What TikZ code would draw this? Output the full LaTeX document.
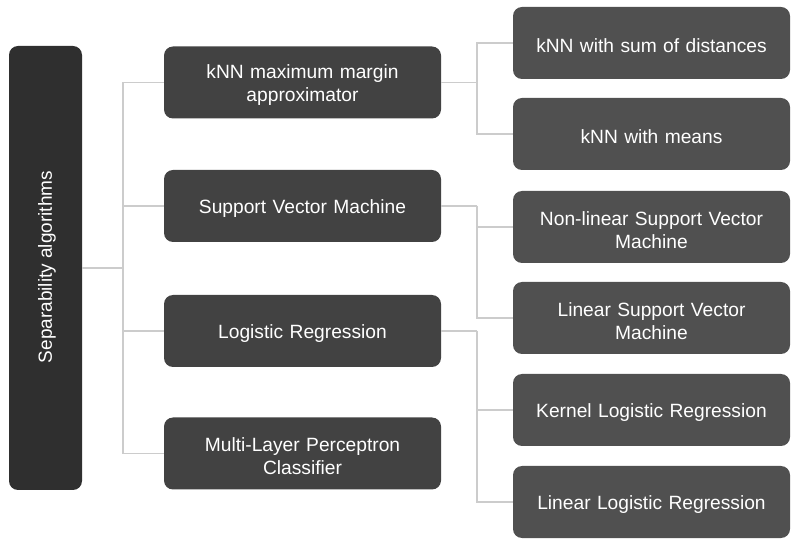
\documentclass[tikz,border=0pt]{standalone}
\usepackage{fontspec}
\setmainfont{Liberation Sans}
\definecolor{rootc}{HTML}{2F2F2F}
\definecolor{lonec}{HTML}{424242}
\definecolor{ltwoc}{HTML}{505050}
\definecolor{linec}{HTML}{CCCCCC}
\begin{document}
\begin{tikzpicture}[x=1pt,y=-1pt,
  boxbase/.style={rounded corners=9pt, inner sep=0pt},
  rootbox/.style={boxbase, fill=rootc, minimum width=73pt, minimum height=444pt},
  onebox/.style={boxbase, fill=lonec, minimum width=277pt, minimum height=72pt},
  twobox/.style={boxbase, fill=ltwoc, minimum width=277pt, minimum height=72pt},
  txt/.style={text=white, align=center, inner sep=0pt, text width=270pt,
    font=\fontsize{19.2}{23}\selectfont},
  conn/.style={draw=linec, line width=1.3pt}]
\useasboundingbox (0,0) rectangle (796,545);
\node[rootbox] (root) at (45.5,268) {};
\node[text=white, rotate=90, inner sep=0pt, font=\fontsize{19}{23}\selectfont] (roottext) at (47,267) {Separability algorithms};
\node[onebox] (a1) at (302.5,82.5) {};
\node[onebox] (a2) at (302.5,206) {};
\node[onebox] (a3) at (302.5,331) {};
\node[onebox] (a4) at (302.5,453.5) {};
\node[twobox] (b1) at (651.5,43) {};
\node[twobox] (b2) at (651.5,134) {};
\node[twobox] (b3) at (651.5,227) {};
\node[twobox] (b4) at (651.5,318) {};
\node[twobox] (b5) at (651.5,410) {};
\node[twobox] (b6) at (651.5,502) {};
\node[txt] (ta1) at ([yshift=-3pt]a1.center) {kNN maximum margin\\approximator};
\node[txt] (ta2) at ([yshift=-3pt]a2.center) {Support Vector Machine};
\node[txt] (ta3) at ([yshift=-3pt]a3.center) {Logistic Regression};
\node[txt] (ta4) at ([yshift=-3pt]a4.center) {Multi-Layer Perceptron\\Classifier};
\node[txt] (tb1) at ([yshift=-3pt]b1.center) {kNN with sum of distances};
\node[txt] (tb2) at ([yshift=-3pt]b2.center) {kNN with means};
\node[txt] (tb3) at ([yshift=-3pt]b3.center) {Non-linear Support Vector\\Machine};
\node[txt] (tb4) at ([yshift=-3pt]b4.center) {Linear Support Vector\\Machine};
\node[txt] (tb5) at ([yshift=-3pt]b5.center) {Kernel Logistic Regression};
\node[txt] (tb6) at ([yshift=-3pt]b6.center) {Linear Logistic Regression};
\coordinate (j0) at (123,268);
\coordinate (j1) at (477,82.5);
\coordinate (j2) at (477,206);
\coordinate (j3) at (477,331);
\draw[conn] (root.east |- j0) -- (j0);
\draw[conn] (j0) |- (a1.west);
\draw[conn] (j0) |- (a2.west);
\draw[conn] (j0) |- (a3.west);
\draw[conn] (j0) |- (a4.west);
\draw[conn] (a1.east) -- (j1);
\draw[conn] (j1) |- (b1.west);
\draw[conn] (j1) |- (b2.west);
\draw[conn] (a2.east) -- (j2);
\draw[conn] (j2) |- (b3.west);
\draw[conn] (j2) |- (b4.west);
\draw[conn] (a3.east) -- (j3);
\draw[conn] (j3) |- (b5.west);
\draw[conn] (j3) |- (b6.west);
\end{tikzpicture}
\end{document}
